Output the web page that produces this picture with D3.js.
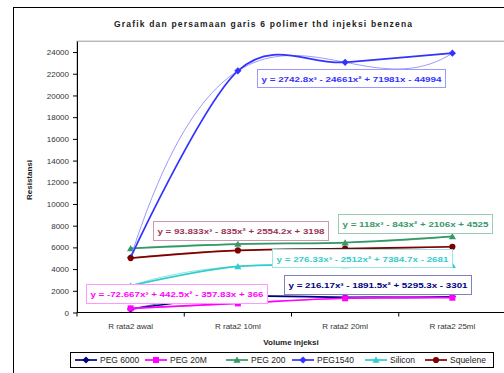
<!DOCTYPE html>
<html><head><meta charset="utf-8">
<script src="https://cdn.jsdelivr.net/npm/d3@7"></script>
<style>body{margin:0;background:#fff}svg{display:block;font-family:"Liberation Sans",Arial,sans-serif}</style>
</head><body><svg id="c" width="504" height="373"></svg>
<script>
const categories = ["R rata2 awal","R rata2 10ml","R rata2 20ml","R rata2 25ml"];
const seriesNames = ["PEG 6000","PEG 20M","PEG 200","PEG1540","Silicon","Squelene"];
const peg6000 = [319, 1453, 1398, 1451];
const peg20m = [378, 839, 1313, 1364];
const peg200 = [5906, 6309, 6442, 7013];
const peg1540 = [5069, 22266, 23056, 23893];
const silicon = [2468, 4251, 4326, 4351];
const squelene = [5011, 5717, 5879, 6060];
const trendCoefs = [
  [216.17, -1891.5, 5295.3, -3301],
  [-72.667, 442.5, -357.83, 366],
  [118, -843, 2106, 4525],
  [2742.8, -24661, 71981, -44994],
  [276.33, -2512, 7384.7, -2681],
  [93.833, -835, 2554.2, 3198]
];
const equations = [
  "y = 216.17x³ - 1891.5x² + 5295.3x - 3301",
  "y = -72.667x³ + 442.5x² - 357.83x + 366",
  "y = 118x³ - 843x² + 2106x + 4525",
  "y = 2742.8x³ - 24661x² + 71981x - 44994",
  "y = 276.33x³ - 2512x² + 7384.7x - 2681",
  "y = 93.833x³ - 835x² + 2554.2x + 3198"
];
const yTicks = [0,2000,4000,6000,8000,10000,12000,14000,16000,18000,20000,22000,24000];

const seriesValues = [peg6000, peg20m, peg200, peg1540, silicon, squelene];
const colors = ["#000080","#FF00FF","#339966","#3333FF","#33CCCC","#800000"];
const trendColors = ["#7070B8","#FF88FF","#8CC6A9","#9A9AFF","#8CE2E2","#B87070"];
const labelText = ["#000080","#FF00FF","#339966","#3333FF","#33CCCC","#993355"];
const labelBorder = ["#8080C0","#FF99FF","#99CCB3","#9999FF","#99E6E6","#CC99AA"];
const markers = ["diamond","square","triangle","diamond","triangle","circle"];
// label box layout: [x, y, w, h]
const labelBoxes = [
  [284, 275, 187, 19],
  [86, 284, 181, 19],
  [338, 214, 154, 19],
  [257, 69, 188, 18],
  [272, 249, 180, 18],
  [153, 221, 175, 19]
];

function markerPath(type) {
  if (type === "diamond") return "M0,-3.6L3.6,0L0,3.6L-3.6,0Z";
  if (type === "square") return "M-3,-3H3V3H-3Z";
  if (type === "triangle") return "M0,-3.4L3.6,2.8H-3.6Z";
  return d3.symbol().type(d3.symbolCircle).size(30)();
}

const svg = d3.select("#c");
const L = 77, R = 506, T = 41.2, B = 312.5;
const x = d3.scaleBand().domain(categories).range([L, R]);
const y = d3.scaleLinear().domain([0, 25000]).range([B, T]);
const cx = i => x(categories[i]) + x.bandwidth()/2;

// outer chart border
svg.append("rect").attr("x",13.5).attr("y",7.5).attr("width",520).attr("height",400)
  .attr("fill","none").attr("stroke","#000").attr("stroke-width",1);

// plot area border
svg.append("rect").attr("x",L).attr("y",T).attr("width",R-L).attr("height",B-T)
  .attr("fill","none").attr("stroke","#999").attr("stroke-width",1);

// title
svg.append("text").attr("x",263).attr("y",27).attr("text-anchor","middle")
  .attr("font-size",8.5).attr("font-weight","bold").attr("fill","#222")
  .attr("textLength",298).attr("lengthAdjust","spacing")
  .text("Grafik dan persamaan garis 6 polimer thd injeksi benzena");

// y axis
const yAxis = d3.axisLeft(y).tickValues(yTicks).tickFormat(d3.format("d")).tickSize(4).tickPadding(4).tickSizeOuter(0);
const gy = svg.append("g").attr("transform",`translate(${L},0)`).call(yAxis);
gy.select(".domain").attr("stroke","#000");
gy.selectAll(".tick line").attr("stroke","#000");
gy.selectAll("text").attr("font-size",8).attr("fill","#333").attr("font-family","Liberation Sans, Arial, sans-serif");

// x axis
const gx = svg.append("g").attr("transform",`translate(0,${B})`);
gx.append("line").attr("x1",L).attr("x2",R).attr("stroke","#000");
const bounds = d3.range(categories.length+1).map(i => L + i*x.bandwidth());
gx.selectAll("line.tk").data(bounds).join("line").attr("class","tk")
  .attr("x1",d=>d).attr("x2",d=>d).attr("y1",0).attr("y2",4).attr("stroke","#000");
gx.selectAll("text").data(categories).join("text")
  .attr("x",(d,i)=>cx(i)).attr("y",16).attr("text-anchor","middle")
  .attr("font-size",8).attr("fill","#333").text(d=>d);

// axis titles
svg.append("text").attr("x",291).attr("y",345).attr("text-anchor","middle")
  .attr("font-size",8).attr("font-weight","bold").attr("fill","#222").text("Volume injeksi");
svg.append("text").attr("transform","translate(32,180) rotate(-90)").attr("text-anchor","middle")
  .attr("font-size",8).attr("font-weight","bold").attr("fill","#222").text("Resistansi");

// series
const lineGen = d3.line().x(d=>d[0]).y(d=>d[1]).curve(d3.curveCardinal.tension(0));
const trendGen = d3.line().x(d=>d[0]).y(d=>d[1]);
const gS = svg.append("g");
seriesValues.forEach((vals, s) => {
  const c = trendCoefs[s];
  const ts = d3.range(1, 4.0001, 0.05);
  const tpts = ts.map(t => [cx(0) + (t-1)*x.bandwidth(), y(c[0]*t*t*t + c[1]*t*t + c[2]*t + c[3])]);
  gS.append("path").attr("d", trendGen(tpts)).attr("fill","none")
    .attr("stroke", trendColors[s]).attr("stroke-width", 1);
  const pts = vals.map((v,i)=>[cx(i), y(v)]);
  gS.append("path").attr("d", lineGen(pts)).attr("fill","none")
    .attr("stroke", colors[s]).attr("stroke-width", 1.7);
  gS.selectAll(null).data(pts).join("path")
    .attr("transform", d=>`translate(${d[0]},${d[1]})`)
    .attr("d", markerPath(markers[s]))
    .attr("fill", colors[s]);
});

// equation labels
equations.forEach((eq, s) => {
  const b = labelBoxes[s];
  svg.append("rect").attr("x",b[0]+0.5).attr("y",b[1]+0.5).attr("width",b[2]).attr("height",b[3])
    .attr("fill","#fff").attr("stroke",labelBorder[s]).attr("stroke-width",1);
  svg.append("text").attr("x",b[0]+b[2]/2+0.5).attr("y",b[1]+b[3]/2+3.5).attr("text-anchor","middle")
    .attr("font-size",8).attr("font-weight","bold").attr("fill",labelText[s])
    .attr("textLength",b[2]-8).attr("lengthAdjust","spacingAndGlyphs").text(eq);
});

// legend
svg.append("rect").attr("x",70.5).attr("y",352.5).attr("width",423).attr("height",15)
  .attr("fill","#fff").attr("stroke","#000").attr("stroke-width",1);
const legX = [75, 145, 226, 292, 365, 425];
seriesNames.forEach((n, s) => {
  const g = svg.append("g").attr("transform",`translate(${legX[s]},360)`);
  g.append("line").attr("x1",0).attr("x2",22).attr("stroke",colors[s]).attr("stroke-width",1.7);
  g.append("path").attr("transform","translate(11,0)")
    .attr("d", markerPath(markers[s])).attr("fill",colors[s]);
  g.append("text").attr("x",25).attr("y",3).attr("font-size",8.5).attr("fill","#222").text(n);
});
</script></body></html>
